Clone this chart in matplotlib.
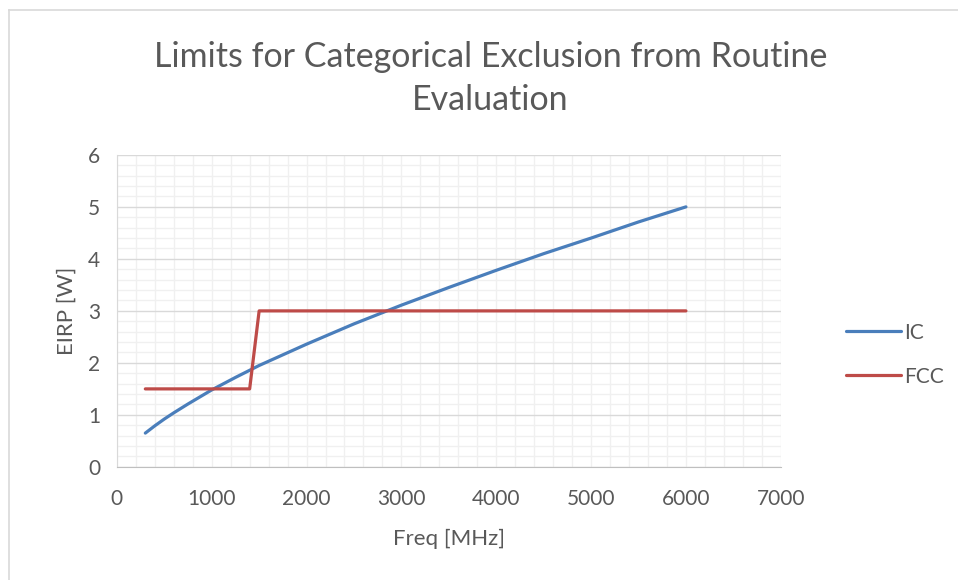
import matplotlib.pyplot as plt
from matplotlib.ticker import MultipleLocator
from matplotlib.lines import Line2D

# data
ic_freq = [300, 400, 500, 600, 750, 1000, 1250, 1500, 2000, 2500, 3000,
           3500, 4000, 4500, 5000, 5500, 6000]
ic_eirp = [0.65, 0.79, 0.92, 1.04, 1.21, 1.48, 1.72, 1.95, 2.36, 2.75, 3.11,
           3.45, 3.78, 4.10, 4.40, 4.71, 5.00]

fcc_freq = [300, 1400, 1500, 6000]
fcc_eirp = [1.5, 1.5, 3.0, 3.0]

title = "Limits for Categorical Exclusion from Routine\nEvaluation"
xlabel = "Freq [MHz]"
ylabel = "EIRP [W]"

plt.rcParams['font.family'] = ['Lato', 'DejaVu Sans']
txt = '#595959'

fig = plt.figure(figsize=(9.58, 5.8), dpi=100)
ax = fig.add_axes([0.122, 0.195, 0.693, 0.538])

ax.plot(ic_freq, ic_eirp, color='#4a7ebb', lw=2.3, label='IC',
        solid_capstyle='round', zorder=3)
ax.plot(fcc_freq, fcc_eirp, color='#be4b48', lw=2.3, label='FCC',
        solid_capstyle='round', zorder=3)

ax.set_xlim(0, 7000)
ax.set_ylim(0, 6)
ax.xaxis.set_major_locator(MultipleLocator(1000))
ax.xaxis.set_minor_locator(MultipleLocator(200))
ax.yaxis.set_major_locator(MultipleLocator(1))
ax.yaxis.set_minor_locator(MultipleLocator(0.2))

ax.grid(which='minor', axis='both', color='#f0f0f0', lw=1.0, zorder=0)
ax.grid(which='major', axis='x', color='#f0f0f0', lw=1.0, zorder=0)
ax.grid(which='major', axis='y', color='#d9d9d9', lw=1.0, zorder=1)
ax.set_axisbelow(True)

for s in ['top', 'right']:
    ax.spines[s].set_visible(False)
ax.spines['left'].set_color('#d9d9d9')
ax.spines['bottom'].set_color('#bfbfbf')
ax.tick_params(which='both', length=0, labelsize=15, colors=txt)
ax.tick_params(axis='x', pad=16)
ax.tick_params(axis='y', pad=12)

ax.set_xlabel(xlabel, fontsize=16, color=txt, labelpad=14)
ax.set_ylabel(ylabel, fontsize=16, color=txt, labelpad=8)
fig.text(0.512, 0.93, title, ha='center', va='top', fontsize=24.5,
         color=txt, linespacing=1.45)

ax.legend(loc='center left', bbox_to_anchor=(1.099, 0.36), frameon=False,
          fontsize=15, labelcolor=txt, handlelength=2.6, handletextpad=0.15,
          labelspacing=1.15, borderpad=0, borderaxespad=0)

# chart frame (top and left edges visible)
fig.add_artist(Line2D([0.009, 1.0], [0.983, 0.983], color='#d9d9d9', lw=1.2))
fig.add_artist(Line2D([0.009, 0.009], [0.0, 0.983], color='#d9d9d9', lw=1.2))

fig.savefig('out.png', dpi=100)
